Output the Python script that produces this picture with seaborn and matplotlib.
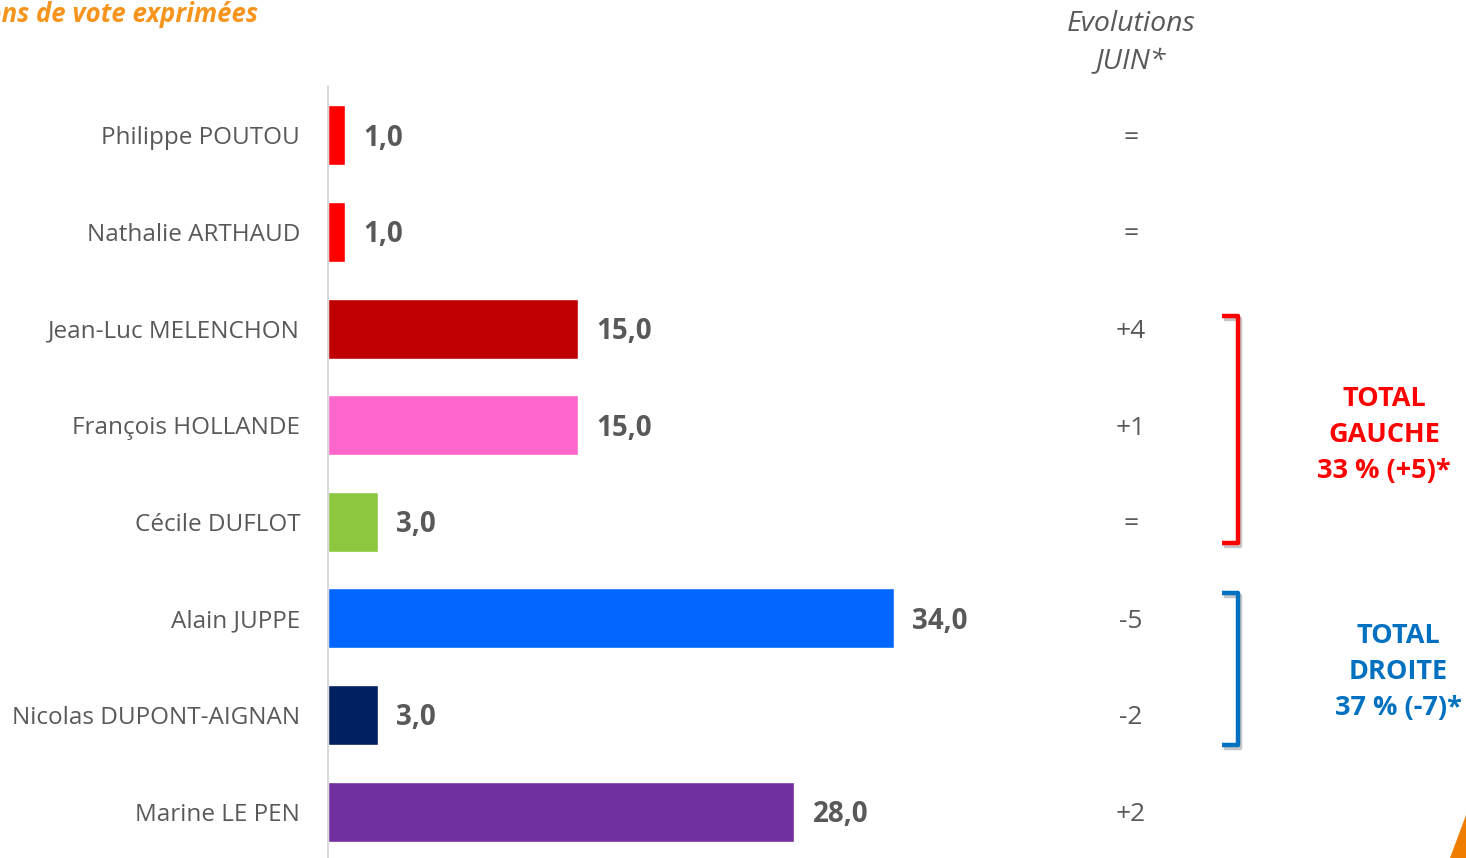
import matplotlib
matplotlib.use("Agg")
import matplotlib.pyplot as plt
import seaborn as sns
import pandas as pd
from matplotlib.lines import Line2D
from matplotlib.patches import Polygon
import matplotlib.patheffects as pe

candidates = ["Philippe POUTOU", "Nathalie ARTHAUD", "Jean-Luc MELENCHON",
              "François HOLLANDE", "Cécile DUFLOT", "Alain JUPPE",
              "Nicolas DUPONT-AIGNAN", "Marine LE PEN"]
scores = [1.0, 1.0, 15.0, 15.0, 3.0, 34.0, 3.0, 28.0]
evolutions = ["=", "=", "+4", "+1", "=", "-5", "-2", "+2"]
bar_colors = ["#FF0000", "#FF0000", "#C00000", "#FF66CC", "#8DC63F",
              "#0066FF", "#002060", "#7030A0"]
title_text = "Intentions de vote exprimées"
evo_header = "Evolutions\nJUIN*"
total_gauche = "TOTAL\nGAUCHE\n33 % (+5)*"
total_droite = "TOTAL\nDROITE\n37 % (-7)*"

sns.set_theme(style="white")
plt.rcParams["font.family"] = ["Open Sans", "DejaVu Sans"]

W, H = 1466, 858
fig = plt.figure(figsize=(W / 100, H / 100), dpi=100)
fig.patch.set_facecolor("white")

px_per_unit = 16.65
left_px, top_px, bottom_px = 328, 87, 860
ax = fig.add_axes([left_px / W, (H - bottom_px) / H,
                   (W - left_px) / W, (bottom_px - top_px) / H])

df = pd.DataFrame({"candidate": candidates, "score": scores})
sns.barplot(data=df, x="score", y="candidate", hue="candidate",
            palette=bar_colors, legend=False, orient="h", width=0.62,
            ax=ax, saturation=1)

ax.set_xlim(0, (W - left_px) / px_per_unit)
ax.set_ylim(len(candidates) - 0.5, -0.5)
ax.set_xlabel("")
ax.set_ylabel("")
ax.set_xticks([])
for s in ["top", "right", "bottom"]:
    ax.spines[s].set_visible(False)
ax.spines["left"].set_color("#D9D9D9")
ax.spines["left"].set_linewidth(1.5)
ax.tick_params(axis="y", which="major", length=0, pad=20,
               labelsize=17.5, labelcolor="#595959")
ax.set_yticks([i + 0.5 for i in range(-1, len(candidates))], minor=True)
ax.tick_params(axis="y", which="minor", length=7, color="#D9D9D9", width=1.5)

for i, v in enumerate(scores):
    ax.text(v + 1.1, i + 0.03, f"{v:.1f}".replace(".", ","), va="center",
            ha="left", fontsize=20, fontweight="bold", color="#595959")

evo_x = (1131 - left_px) / px_per_unit
for i, e in enumerate(evolutions):
    ax.text(evo_x, i + 0.03, e, ha="center", va="center", fontsize=19,
            color="#595959")

fig.text(1131 / W, 1 - 43 / H, evo_header, ha="center", va="center",
         fontsize=20.5, fontstyle="italic", color="#595959", linespacing=1.45)

fig.text(258 / W, 1 - 14 / H, title_text, ha="right", va="center",
         fontsize=18.5, fontstyle="italic", fontweight="bold", color="#F7941D")

def bracket(y0, y1, color):
    xs = [1222 / W, 1238 / W, 1238 / W, 1222 / W]
    ys = [1 - y0 / H, 1 - y0 / H, 1 - y1 / H, 1 - y1 / H]
    ln = Line2D(xs, ys, color=color, linewidth=3.2, solid_joinstyle="round",
                solid_capstyle="butt",
                path_effects=[pe.SimpleLineShadow(offset=(1.5, -2), alpha=0.25),
                              pe.Normal()])
    fig.add_artist(ln)

bracket(316, 543, "#FF0000")
bracket(593, 745, "#0070C0")

fig.text(1384 / W, 1 - 435 / H, total_gauche, ha="center", va="center",
         fontsize=19.5, fontweight="bold", color="#FF0000", linespacing=1.5)
fig.text(1398 / W, 1 - 672 / H, total_droite, ha="center", va="center",
         fontsize=19.5, fontweight="bold", color="#0070C0", linespacing=1.5)

tri = Polygon([(1450 / W, 0), (1466 / W, 1 - 815 / H), (1466 / W, 0)],
              closed=True, facecolor="#EE7D00", edgecolor="none",
              transform=fig.transFigure)
fig.add_artist(tri)

fig.savefig("out.png", dpi=100)
